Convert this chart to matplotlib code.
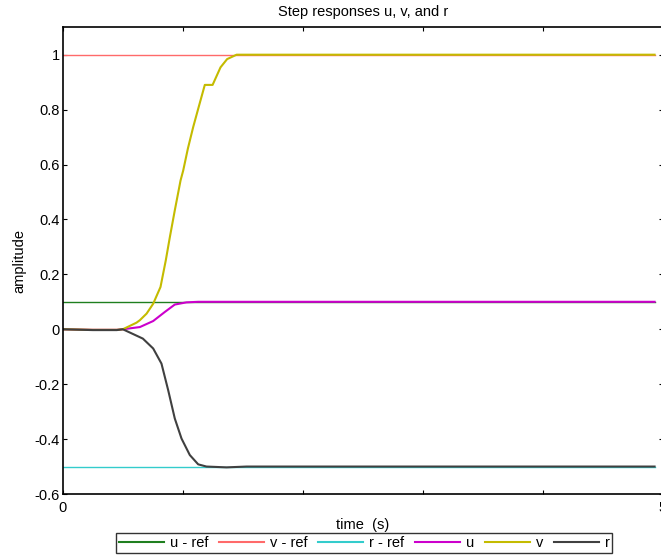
import numpy as np
import matplotlib.pyplot as plt

plt.rcParams["font.family"] = ["Liberation Sans", "DejaVu Sans"]
plt.rcParams["font.size"] = 10.5

t_end = 4.93

# reference values
u_ref = 0.1
v_ref = 1.0
r_ref = -0.5

# responses (time in s)
t_u = [0, 0.25, 0.45, 0.5, 0.642, 0.753, 0.85, 0.933, 1.03, 1.128, t_end]
u = [0, -0.002, -0.002, 0, 0.008, 0.03, 0.063, 0.09, 0.098, 0.1, 0.1]

t_v = [0, 0.25, 0.45, 0.5, 0.614, 0.642, 0.698, 0.753, 0.814, 0.858, 0.892,
       0.933, 0.981, 1.003, 1.042, 1.086, 1.128, 1.183, 1.248, 1.314, 1.369,
       1.448, t_end]
v = [0, -0.002, -0.002, 0, 0.024, 0.033, 0.057, 0.093, 0.154, 0.251, 0.336,
     0.433, 0.542, 0.578, 0.658, 0.736, 0.803, 0.89, 0.89, 0.954, 0.984,
     1.0, 1.0]

t_r = [0, 0.25, 0.45, 0.5, 0.667, 0.753, 0.822, 0.878, 0.933, 0.989, 1.058,
       1.128, 1.197, 1.364, 1.531, t_end]
r = [0, -0.003, -0.003, 0, -0.034, -0.07, -0.125, -0.222, -0.325, -0.398,
     -0.458, -0.492, -0.5, -0.503, -0.5, -0.5]

fig = plt.figure(figsize=(6.61, 5.56), dpi=100)
ax = fig.add_axes([0.095, 0.1115, 0.908, 0.8395])

ax.plot([0, t_end], [u_ref, u_ref], color="#1f7f1f", lw=1.0, label="u - ref")
ax.plot([0, t_end], [v_ref, v_ref], color="#ff6a6a", lw=1.0, label="v - ref")
ax.plot([0, t_end], [r_ref, r_ref], color="#33cccc", lw=1.0, label="r - ref")
ax.plot(t_u, u, color="#cc00cc", lw=1.5, label="u")
ax.plot(t_v, v, color="#c4bb00", lw=1.5, label="v")
ax.plot(t_r, r, color="#404040", lw=1.5, label="r")

ax.set_xlim(0, 5)
ax.set_ylim(-0.6, 1.1)
ax.set_xticks([0, 1, 2, 3, 4, 5])
ax.set_xticklabels(["0", "", "", "", "", "5"])
ax.set_yticks([-0.6, -0.4, -0.2, 0, 0.2, 0.4, 0.6, 0.8, 1])
ax.set_yticklabels(["-0.6", "-0.4", "-0.2", "0", "0.2", "0.4", "0.6", "0.8", "1"])
ax.tick_params(direction="in", length=3, top=True, right=True, labelsize=10.5)
ax.tick_params(axis="y", pad=2)
ax.tick_params(axis="x", pad=5)
for s in ax.spines.values():
    s.set_linewidth(1.2)

ax.set_title("Step responses u, v, and r", fontsize=10.5, pad=8)
ax.set_xlabel("time  (s)", fontsize=10.5, labelpad=2)
ax.set_ylabel("amplitude", fontsize=10.5, labelpad=6)

leg = fig.legend(loc="lower center", bbox_to_anchor=(0.551, -0.008), ncol=6,
                 frameon=True, fancybox=False, fontsize=10.5, handlelength=3.1,
                 columnspacing=0.72, handletextpad=0.4, borderpad=0.2)
leg.get_frame().set_edgecolor("black")
leg.get_frame().set_linewidth(1.0)
for line in leg.get_lines():
    line.set_linewidth(1.5)

fig.savefig("out.png", dpi=100)
